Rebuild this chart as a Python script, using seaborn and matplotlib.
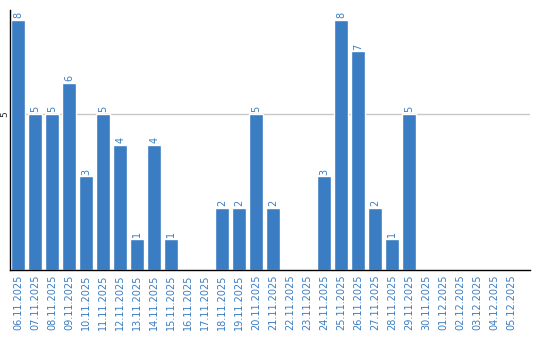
import matplotlib
matplotlib.use("Agg")
import matplotlib.pyplot as plt
import seaborn as sns
import pandas as pd

dates = ["06.11.2025", "07.11.2025", "08.11.2025", "09.11.2025", "10.11.2025",
         "11.11.2025", "12.11.2025", "13.11.2025", "14.11.2025", "15.11.2025",
         "16.11.2025", "17.11.2025", "18.11.2025", "19.11.2025", "20.11.2025",
         "21.11.2025", "22.11.2025", "23.11.2025", "24.11.2025", "25.11.2025",
         "26.11.2025", "27.11.2025", "28.11.2025", "29.11.2025", "30.11.2025",
         "01.12.2025", "02.12.2025", "03.12.2025", "04.12.2025", "05.12.2025"]
counts = [8, 5, 5, 6, 3, 5, 4, 1, 4, 1, 0, 0, 2, 2, 5, 2, 0, 0, 3, 8, 7, 2, 1, 5,
          0, 0, 0, 0, 0, 0]
yticks = [5]

df = pd.DataFrame({"date": dates, "count": counts})

sns.set_style("white")
plt.rcParams['font.family'] = ['DejaVu Sans']

blue = "#3a7dc2"
fig = plt.figure(figsize=(5.4, 3.4), dpi=100)
ax = fig.add_axes([10/540, 70/340, 520/540, 260/340])

sns.barplot(data=df, x="date", y="count", color=blue, width=0.82,
            saturation=1, ax=ax, zorder=2)

for i, v in enumerate(counts):
    if v > 0:
        ax.text(i, v + 0.05, str(v), rotation=90, ha="center", va="bottom",
                fontsize=7, color=blue)

ax.set_xlim(-8/17, 30.1)
ax.set_ylim(0, 8.32)
ax.set_yticks(yticks)
ax.set_yticklabels([str(t) for t in yticks], rotation=90, va="center", fontsize=6.5)
ax.yaxis.grid(True, color="#c8c8c8", linewidth=1, zorder=0)
ax.set_axisbelow(True)
ax.tick_params(axis="y", length=0, pad=0.5)
ax.tick_params(axis="x", length=0, pad=3, labelsize=7, labelcolor=blue)
for lbl in ax.get_xticklabels():
    lbl.set_rotation(90)
ax.set_xlabel("")
ax.set_ylabel("")
for s in ["top", "right"]:
    ax.spines[s].set_visible(False)
ax.spines["left"].set_color("black")
ax.spines["bottom"].set_color("black")
ax.spines["left"].set_linewidth(1)
ax.spines["bottom"].set_linewidth(1)

fig.savefig("out.png", dpi=100)
